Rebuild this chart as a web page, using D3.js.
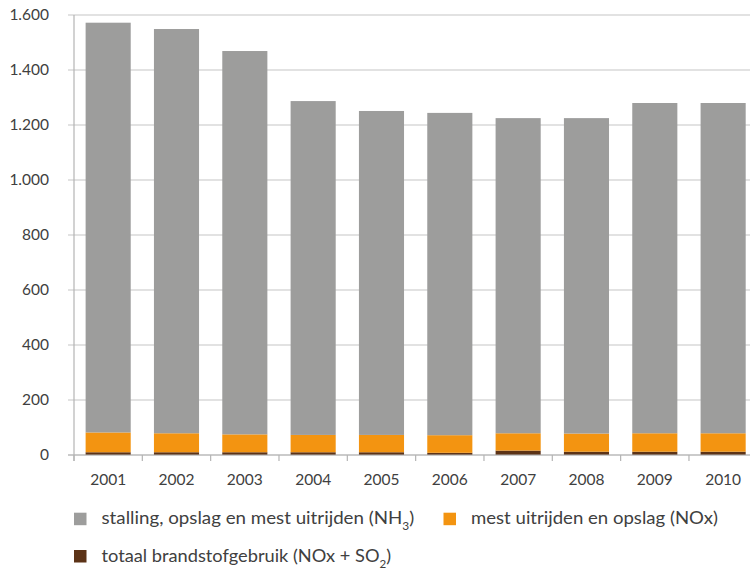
<!DOCTYPE html>
<html><head><meta charset="utf-8">
<script src="https://cdn.jsdelivr.net/npm/d3@7"></script>
<style>body{margin:0;background:#fff}svg{display:block}</style>
</head><body>
<svg id="c" width="750" height="569"></svg>
<script>
const years = ["2001","2002","2003","2004","2005","2006","2007","2008","2009","2010"];
const brandstof = [10,10,10,10,10,8,16,12,12,12];
const mestNOx = [72,69,65,63,63,64,63,66,67,67];
const stallingNH3 = [1490,1470,1394,1214,1178,1172,1146,1147,1201,1201];
const yTicks = [0,200,400,600,800,1000,1200,1400,1600];

const svg = d3.select("#c");
const font = "Lato, 'Open Sans', sans-serif";
const x = d3.scaleBand().domain(years).range([74, 757.3]).paddingInner(0.34).paddingOuter(0.17);
const y = d3.scaleLinear().domain([0,1600]).range([455,15]);
const nl = d3.formatLocale({decimal:",", thousands:".", grouping:[3], currency:["€",""]});
const fmt = nl.format(",d");

const keys = ["brandstof","mestNOx","stallingNH3"];
const colors = {brandstof:"#5c3317", mestNOx:"#f39411", stallingNH3:"#9d9d9c"};
const rows = years.map((yr,i)=>({year:yr, brandstof:brandstof[i], mestNOx:mestNOx[i], stallingNH3:stallingNH3[i]}));
const stack = d3.stack().keys(keys)(rows);

// gridlines
svg.append("g").selectAll("line").data(yTicks).join("line")
  .attr("x1",68).attr("x2",750).attr("y1",d=>y(d)).attr("y2",d=>y(d))
  .attr("stroke","#c6c6c6").attr("stroke-width",1.2);

// y labels
svg.append("g").selectAll("text").data(yTicks).join("text")
  .attr("x",49).attr("y",d=>y(d)).attr("dy","0.35em").attr("text-anchor","end")
  .attr("font-family",font).attr("font-size",15.5).attr("fill","#404040").text(d=>fmt(d));

// bars
svg.append("g").selectAll("g").data(stack).join("g").attr("fill",d=>colors[d.key])
  .selectAll("rect").data(d=>d).join("rect")
  .attr("x",d=>x(d.data.year)).attr("width",x.bandwidth())
  .attr("y",d=>y(d[1])).attr("height",d=>y(d[0])-y(d[1]));

// axis
svg.append("line").attr("x1",74).attr("x2",74).attr("y1",15).attr("y2",461)
  .attr("stroke","#b4b4b4").attr("stroke-width",1.2);
const step = x.step();
svg.append("g").selectAll("line").data(d3.range(11)).join("line")
  .attr("x1",d=>74+d*step).attr("x2",d=>74+d*step).attr("y1",455).attr("y2",461)
  .attr("stroke","#b4b4b4").attr("stroke-width",1.2);
svg.append("line").attr("x1",68).attr("x2",750).attr("y1",455).attr("y2",455)
  .attr("stroke","#b4b4b4").attr("stroke-width",1.2);

svg.append("g").selectAll("text").data(years).join("text")
  .attr("x",d=>x(d)+x.bandwidth()/2).attr("y",480).attr("dy","0.35em").attr("text-anchor","middle")
  .attr("font-family",font).attr("font-size",15.5).attr("fill","#404040").text(d=>d);

// legend
const legend = [
  {key:"stallingNH3", x:74, y:518.7, w:313, parts:[["stalling, opslag en mest uitrijden (NH",0],["3",1],[")",0]]},
  {key:"mestNOx", x:443.5, y:518.7, w:247, parts:[["mest uitrijden en opslag (NOx)",0]]},
  {key:"brandstof", x:74, y:556, w:290, parts:[["totaal brandstofgebruik (NOx + SO",0],["2",1],[")",0]]}
];
const lg = svg.append("g").selectAll("g").data(legend).join("g");
lg.append("rect").attr("x",d=>d.x).attr("y",d=>d.y-6).attr("width",12.5).attr("height",12.5).attr("fill",d=>colors[d.key]);
const lt = lg.append("text").attr("x",0).attr("y",0).attr("dy","0.35em")
  .attr("font-family",font).attr("font-size",16.5).attr("fill","#404040");
lt.selectAll("tspan").data(d=>d.parts).join("tspan")
  .attr("font-size",p=>p[1]?10.5:null)
  .attr("dy",(p,i,n)=>p[1]?6:(i>0 && d3.select(n[i-1]).datum()[1]?-6:null))
  .text(p=>p[0]);
lt.each(function(d){
  const bb = this.getBBox();
  const s = d.w / bb.width;
  d3.select(this).attr("transform",`translate(${d.x+27.5},${d.y}) scale(${s},1)`);
});
</script>
</body></html>
